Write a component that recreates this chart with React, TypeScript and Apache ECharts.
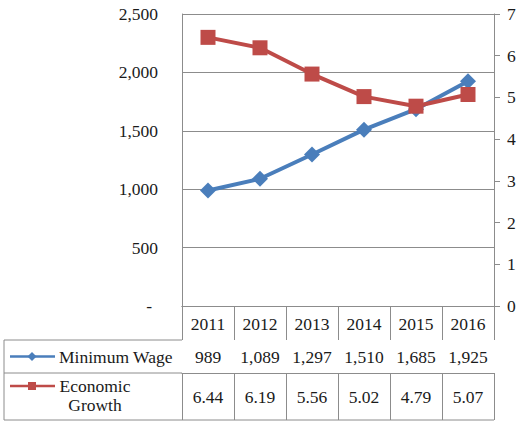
import React, { useEffect, useRef } from "react";
import * as echarts from "echarts";

const years = ["2011", "2012", "2013", "2014", "2015", "2016"];
const minimumWage = [989, 1089, 1297, 1510, 1685, 1925];
const economicGrowth = [6.44, 6.19, 5.56, 5.02, 4.79, 5.07];
const seriesNames = ["Minimum Wage", "Economic Growth"];
const leftTicks = { min: 0, max: 2500, interval: 500 };
const rightTicks = { min: 0, max: 7, interval: 1 };

const FONT = "'Liberation Serif', 'Times New Roman', Times, serif";
const FS = 17.5;
const TXT = "#1a1a1a";
const LINE = "#8c8c8c";
const BLUE = "#4a7ebb";
const RED = "#be4b48";

// layout
const GL = 182;
const GR = 494;
const GT = 14;
const GB = 306;
const R1 = 340;
const R2 = 373;
const R3 = 420;
const TL = 4;

export default function App() {
  const ref = useRef<HTMLDivElement>(null);
  useEffect(() => {
    if (!ref.current) return;
    const chart = echarts.init(ref.current, undefined, { renderer: "svg" });
    const fmt = (v: number) => v.toLocaleString("en-US");
    const lbl = { fontFamily: FONT, fontSize: FS, color: TXT };
    const seg = (x1: number, y1: number, x2: number, y2: number) => ({
      type: "line",
      shape: { x1, y1, x2, y2 },
      style: { stroke: LINE, lineWidth: 1 },
      silent: true,
    });
    const legendY1 = (R1 + R2) / 2;
    const legendY2 = R2 + 13;
    chart.setOption({
      animation: false,
      textStyle: { fontFamily: FONT },
      grid: {
        left: GL,
        top: GT,
        width: GR - GL,
        height: GB - GT,
        containLabel: false,
        outerBoundsMode: "none",
      },
      xAxis: [
        {
          type: "category",
          data: years,
          position: "bottom",
          axisLine: { show: true, lineStyle: { color: LINE, width: 1 } },
          axisTick: { show: true, interval: 0, length: R1 - GB, lineStyle: { color: LINE } },
          axisLabel: { ...lbl, interval: 0, margin: 9 },
          splitLine: { show: false },
        },
        {
          type: "category",
          data: minimumWage.map(fmt),
          position: "bottom",
          offset: R1 - GB,
          axisLine: { show: true, lineStyle: { color: LINE, width: 1 } },
          axisTick: { show: true, interval: 0, length: R2 - R1, lineStyle: { color: LINE } },
          axisLabel: { ...lbl, interval: 0, margin: 8 },
          splitLine: { show: false },
        },
        {
          type: "category",
          data: economicGrowth.map((v) => v.toFixed(2)),
          position: "bottom",
          offset: R2 - GB,
          axisLine: { show: true, lineStyle: { color: LINE, width: 1 } },
          axisTick: { show: true, interval: 0, length: R3 - R2, lineStyle: { color: LINE } },
          axisLabel: { ...lbl, interval: 0, margin: 15 },
          splitLine: { show: false },
        },
      ],
      yAxis: [
        {
          type: "value",
          min: leftTicks.min,
          max: leftTicks.max,
          interval: leftTicks.interval,
          axisLine: { show: true, lineStyle: { color: LINE, width: 1 } },
          axisTick: { show: false },
          splitLine: { show: true, lineStyle: { color: LINE, width: 1 } },
          axisLabel: {
            ...lbl,
            margin: 24,
            formatter: (v: number) => (v === 0 ? "{d|-}" : fmt(v)),
            rich: { d: { ...lbl, padding: [0, 6, 0, 0] } },
          },
        },
        {
          type: "value",
          position: "right",
          min: rightTicks.min,
          max: rightTicks.max,
          interval: rightTicks.interval,
          axisLine: { show: true, lineStyle: { color: LINE, width: 1 } },
          axisTick: { show: true, length: 6, lineStyle: { color: LINE } },
          splitLine: { show: false },
          axisLabel: { ...lbl, margin: 13 },
        },
      ],
      series: [
        {
          name: seriesNames[0],
          type: "line",
          xAxisIndex: 0,
          yAxisIndex: 0,
          data: minimumWage,
          symbol: "diamond",
          symbolSize: 16,
          lineStyle: { color: BLUE, width: 4 },
          itemStyle: { color: BLUE },
        },
        {
          name: seriesNames[1],
          type: "line",
          xAxisIndex: 0,
          yAxisIndex: 1,
          data: economicGrowth,
          symbol: "rect",
          symbolSize: 15,
          lineStyle: { color: RED, width: 4 },
          itemStyle: { color: RED },
        },
      ],
      graphic: [
        seg(TL, R1, GL, R1),
        seg(TL, R2, GL, R2),
        seg(TL, R3, GR, R3),
        seg(TL, R1, TL, R3),
        {
          type: "line",
          shape: { x1: 10, y1: legendY1, x2: 55, y2: legendY1 },
          style: { stroke: BLUE, lineWidth: 2.5 },
        },
        {
          type: "polygon",
          shape: {
            points: [
              [32, legendY1 - 4.5],
              [36.5, legendY1],
              [32, legendY1 + 4.5],
              [27.5, legendY1],
            ],
          },
          style: { fill: BLUE },
        },
        {
          type: "line",
          shape: { x1: 10, y1: legendY2, x2: 55, y2: legendY2 },
          style: { stroke: RED, lineWidth: 2.5 },
        },
        {
          type: "rect",
          shape: { x: 28, y: legendY2 - 4, width: 8, height: 8 },
          style: { fill: RED },
        },
        {
          type: "text",
          x: 59,
          y: legendY1,
          style: {
            text: seriesNames[0],
            fontFamily: FONT,
            fontSize: FS,
            fill: TXT,
            align: "left",
            verticalAlign: "middle",
          },
        },
        {
          type: "text",
          x: 95,
          y: legendY2 + 9.5,
          style: {
            text: seriesNames[1].replace(" ", "\n"),
            fontFamily: FONT,
            fontSize: FS,
            fill: TXT,
            align: "center",
            verticalAlign: "middle",
            lineHeight: 19,
          },
        },
      ],
    });
    return () => chart.dispose();
  }, []);
  return (
    <div
      ref={ref}
      style={{ position: "fixed", left: 0, top: 0, width: 522, height: 424, background: "#fff" }}
    />
  );
}
